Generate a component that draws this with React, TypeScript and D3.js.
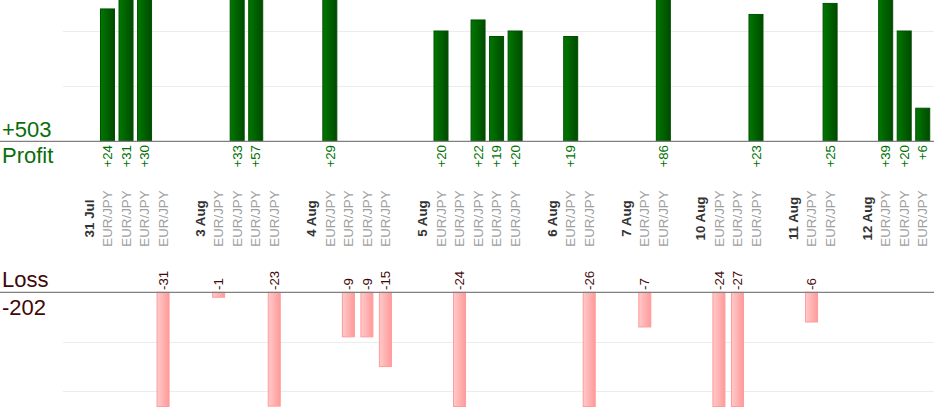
import React from "react";
import * as d3 from "d3";

const days: string[] = ["31 Jul", "3 Aug", "4 Aug", "5 Aug", "6 Aug", "7 Aug", "10 Aug", "11 Aug", "12 Aug"];
const dayTrades: number[][] = [
  [24, 31, 30, -31],
  [-1, 33, 57, -23],
  [29, -9, -9, -15],
  [20, -24, 22, 19, 20],
  [19, -26],
  [-7, 86],
  [-24, -27, 23],
  [-6, 25],
  [39, 20, 6],
];
const symbol = "EUR/JPY";
const gridValues: number[] = [10, 20];

type Slot = { kind: "date" | "trade" | "gap"; label: string; value: number };

const slots: Slot[] = [];
days.forEach((d, i) => {
  slots.push({ kind: "date", label: d, value: 0 });
  dayTrades[i].forEach((v) => slots.push({ kind: "trade", label: symbol, value: v }));
  if (i < days.length - 1) slots.push({ kind: "gap", label: "", value: 0 });
});

const W = 934;
const H = 420;
const FONT = "'Liberation Sans', Arial, Helvetica, sans-serif";

export default function App() {
  const x = d3
    .scaleBand<number>()
    .domain(slots.map((_, i) => i))
    .range([79.7, 932])
    .padding(0);

  const yP = d3.scaleLinear().domain([0, 20]).range([141.3, 31]);
  const yL = d3.scaleLinear().domain([0, 20]).range([292.3, 391.3]);
  const lossMaxY = 406.5;

  const profitTotal = d3.sum(slots, (s) => (s.kind === "trade" && s.value > 0 ? s.value : 0));
  const lossTotal = d3.sum(slots, (s) => (s.kind === "trade" && s.value < 0 ? -s.value : 0));

  const pW = 14;
  const lW = 12;

  return (
    <svg
      width={W}
      height={H}
      style={{ position: "absolute", left: 0, top: 0, background: "#fff" }}
      fontFamily={FONT}
    >
      <defs>
        <linearGradient id="gP" x1="0" x2="1" y1="0" y2="0">
          <stop offset="0" stopColor="#007800" />
          <stop offset="1" stopColor="#004a00" />
        </linearGradient>
        <linearGradient id="gL" x1="0" x2="1" y1="0" y2="0">
          <stop offset="0" stopColor="#ffcaca" />
          <stop offset="1" stopColor="#ff9a9a" />
        </linearGradient>
        <clipPath id="cP">
          <rect x={0} y={0} width={W} height={yP(0)} />
        </clipPath>
      </defs>
      <rect width={W} height={H} fill="#fff" />

      {/* grid lines */}
      {gridValues.map((g) => (
        <line key={"gp" + g} x1={63} x2={W} y1={Math.round(yP(g)) + 0.5} y2={Math.round(yP(g)) + 0.5} stroke="#ececec" />
      ))}
      {gridValues.map((g) => (
        <line key={"gl" + g} x1={63} x2={W} y1={Math.round(yL(g)) + 0.5} y2={Math.round(yL(g)) + 0.5} stroke="#ececec" />
      ))}

      {/* profit bars */}
      <g clipPath="url(#cP)">
        {slots.map((s, i) =>
          s.kind === "trade" && s.value > 0 ? (
            <rect
              key={"p" + i}
              x={x(i)! + x.bandwidth() / 2 - pW / 2}
              y={yP(s.value)}
              width={pW}
              height={yP(0) - yP(s.value)}
              fill="url(#gP)"
              stroke="#005000"
              strokeWidth={1}
            />
          ) : null
        )}
      </g>

      {/* loss bars */}
      {slots.map((s, i) =>
        s.kind === "trade" && s.value < 0 ? (
          <rect
            key={"l" + i}
            x={x(i)! + x.bandwidth() / 2 - lW / 2}
            y={yL(0)}
            width={lW}
            height={Math.min(yL(-s.value), lossMaxY) - yL(0)}
            fill="url(#gL)"
            stroke="#ff9b9b"
            strokeWidth={1}
          />
        ) : null
      )}

      {/* baselines */}
      <line x1={0} x2={W} y1={yP(0)} y2={yP(0)} stroke="#808080" strokeWidth={1.3} />
      <line x1={0} x2={W} y1={yL(0)} y2={yL(0)} stroke="#808080" strokeWidth={1.3} />

      {/* profit value labels */}
      {slots.map((s, i) => {
        if (s.kind !== "trade" || s.value <= 0) return null;
        const cx = x(i)! + x.bandwidth() / 2;
        return (
          <text
            key={"pt" + i}
            transform={`translate(${cx},145) rotate(-90)`}
            dy="0.35em"
            textAnchor="end"
            fontSize={13.33}
            fill="#007000"
          >
            {"+" + s.value}
          </text>
        );
      })}

      {/* loss value labels */}
      {slots.map((s, i) => {
        if (s.kind !== "trade" || s.value >= 0) return null;
        const cx = x(i)! + x.bandwidth() / 2;
        return (
          <text
            key={"lt" + i}
            transform={`translate(${cx},290) rotate(-90)`}
            dy="0.35em"
            textAnchor="start"
            fontSize={13.33}
            fill="#3f0808"
          >
            {String(s.value)}
          </text>
        );
      })}

      {/* category labels */}
      {slots.map((s, i) => {
        if (s.kind === "gap") return null;
        const cx = x(i)! + x.bandwidth() / 2;
        const isDate = s.kind === "date";
        return (
          <text
            key={"c" + i}
            transform={`translate(${cx},218.5) rotate(-90)`}
            dy="0.35em"
            textAnchor="middle"
            fontSize={13.33}
            fontWeight={isDate ? "bold" : "normal"}
            fill={isDate ? "#333333" : "#a0a0a0"}
          >
            {s.label}
          </text>
        );
      })}

      {/* totals */}
      <text x={2} y={137.3} fontSize={22} fill="#0a6e0a">
        {"+" + profitTotal}
      </text>
      <text x={2} y={162.7} fontSize={22} fill="#0a6e0a">
        Profit
      </text>
      <text x={2} y={287.3} fontSize={22} fill="#3f0808">
        Loss
      </text>
      <text x={2} y={315} fontSize={22} fill="#3f0808">
        {"-" + lossTotal}
      </text>
    </svg>
  );
}
